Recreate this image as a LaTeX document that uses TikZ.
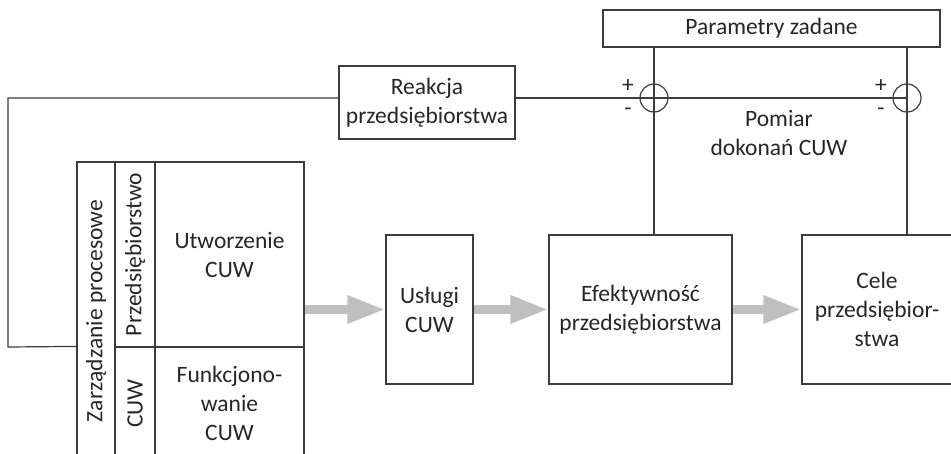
\documentclass[tikz,border=0pt]{standalone}
\usepackage{fontspec}
\setmainfont{Carlito}
\usepackage{tikz}
\usetikzlibrary{arrows.meta}

\definecolor{linia}{HTML}{3C3C3C}
\definecolor{napis}{HTML}{262626}

\tikzset{
  blok/.style={draw=linia, line width=1.2pt, rectangle, inner sep=0pt, align=center, text=napis},
  suma/.style={draw=linia, line width=1.2pt, circle, minimum size=28pt, inner sep=0pt},
  znak/.style={text=napis, inner sep=0pt},
  strz/.style={draw=gray!50, line width=9pt, -{Triangle[length=38pt,width=26pt]}},
  polaczenie/.style={draw=linia, line width=1.2pt}
}

\begin{document}
\begin{tikzpicture}[x=1pt, y=-1pt, font=\fontsize{23.5}{29}\selectfont]
				\useasboundingbox (0,0) rectangle (951,453);
				% bloki glowne
				\node[blok, minimum width=337, minimum height=37] (param)at(771.5, 28.5) {Parametry zadane};
				\node[blok, minimum width=176, minimum height=73] (reakcja)at(427, 102.5) {Reakcja\\przedsiębiorstwa};
				\node[blok, minimum width=87, minimum height=149] (uslugi)at(429.5, 309.5) {Usługi\\CUW};
				\node[blok, minimum width=183, minimum height=149] (efekt)at(640.5, 309.5) {Efektywność\\przedsiębiorstwa};
				\node[blok, minimum width=150, minimum height=149] (cele)at(877, 309.5) {Cele\\przedsiębior-\\stwa};
				% blok zarzadzania
				\node[blok, minimum width=149, minimum height=185] (utw)at(229.5, 254.5) {Utworzenie\\CUW};
				\node[blok, minimum width=149, minimum height=113] (funk)at(229.5, 403.5) {Funkcjono-\\wanie\\CUW};
				\node[blok, rotate=90, minimum width=185, minimum height=40] (przeds)at(135, 254.5) {Przedsiębiorstwo};
				\node[blok, rotate=90, minimum width=113, minimum height=40] (cuw)at(135, 403.5) {CUW};
				\node[blok, rotate=90, minimum width=298, minimum height=38] (zarz)at(96, 311) {Zarządzanie procesowe};
				% wezly sumujace
				\node[suma] (sumL)at(654, 98) {};
				\node[suma] (sumR)at(907, 98) {};
				\node[znak] (plusL)at([xshift=-26, yshift=12]sumL.center) {+};
				\node[znak] (minusL)at([xshift=-26, yshift=-14]sumL.center) {-};
				\node[znak] (plusR)at([xshift=-26, yshift=12]sumR.center) {+};
				\node[znak] (minusR)at([xshift=-26, yshift=-14]sumR.center) {-};
				\node[znak, align=center] (pomiar)at(779, 133) {Pomiar\\dokonań CUW};
				\coordinate (rog) at (8, 347);
				% polaczenia
				\draw[polaczenie] (reakcja.east |- sumL.center) -- (sumR.center);
				\draw[polaczenie] (reakcja.west |- sumL.center) -| (rog) -- (zarz.north |- funk.north);
				\draw[polaczenie] (param.south -| sumL.center) -- (efekt.north -| sumL.center);
				\draw[polaczenie] (param.south -| sumR.center) -- (cele.north -| sumR.center);
				% strzalki
				\draw[strz] (utw.east |- uslugi.west) -- (uslugi.west);
				\draw[strz] (uslugi.east) -- (efekt.west);
				\draw[strz] (efekt.east) -- (cele.west);
		\end{tikzpicture}
\end{document}
